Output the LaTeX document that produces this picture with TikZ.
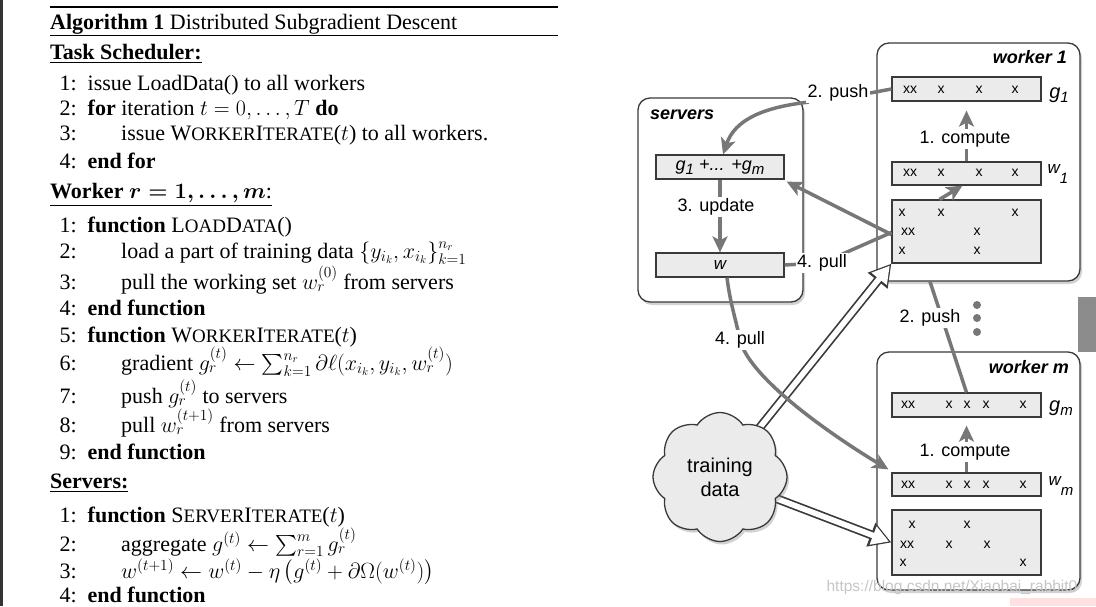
\RequirePackage{fix-cm}
\documentclass[tikz,border=0pt]{standalone}
\usepackage{exscale}
\usepackage[no-math]{fontspec}
\setmainfont{Liberation Serif}
\setsansfont{Liberation Sans}
\usetikzlibrary{shapes.symbols,shadows,arrows.meta,calc}
\definecolor{gcol}{HTML}{777777}
\definecolor{boxfill}{HTML}{EBEBEB}
\definecolor{edgecol}{HTML}{3A3A3A}
\newcommand\scx[1]{{\fontsize{19}{19}\selectfont #1}}
\newcommand\sbx[1]{\raisebox{-0.45ex}{\fontsize{15}{15}\selectfont #1}}
\begin{document}
\begin{tikzpicture}[x=1pt,y=-1pt,
 alg/.style={anchor=base west, inner sep=0pt, font=\fontsize{22}{26}\selectfont},
 lnum/.style={anchor=base east, inner sep=0pt, font=\fontsize{22}{26}\selectfont},
 panel/.style={draw=edgecol, line width=1.3pt, rounded corners=12pt, fill=white, inner sep=0pt,
   drop shadow={opacity=0.35, shadow xshift=2pt, shadow yshift=-3pt}},
 row/.style={draw=edgecol, line width=1.2pt, fill=boxfill, minimum width=149pt, inner sep=0pt},
 xm/.style={font=\sffamily\fontsize{14}{16}\selectfont, inner sep=0pt},
 lbl/.style={font=\sffamily\fontsize{18}{20}\selectfont, fill=white, inner sep=1.5pt},
 ttl/.style={font=\sffamily\bfseries\itshape\fontsize{18}{20}\selectfont, inner sep=0pt},
 side/.style={font=\sffamily\itshape\fontsize{20}{22}\selectfont, inner sep=0pt},
 gline/.style={draw=gcol, line width=3.5pt},
 garrow/.style={gline, -{Stealth[length=16pt,width=15pt,inset=4pt]}},
 hollowout/.style={line width=9pt, draw=edgecol, -{Triangle[length=22pt,width=24pt]}},
 hollowin/.style={line width=5.6pt, draw=white, shorten >=2.6pt, -{Triangle[length=17pt,width=18.5pt]}},
]
\useasboundingbox (0,0) rectangle (1096,606);
\fill[white] (0,0) rectangle (1096,606);
\fill[black!80] (0,0) rectangle (2.5,606);

% ---------------- Algorithm ----------------
\draw[line width=1.6pt] (50,7) -- (558,7);
\node[alg] (a0) at (50,29) {\textbf{Algorithm 1} Distributed Subgradient Descent};
\draw[line width=0.9pt] (50,35) -- (558,35);
\node[alg] (h1) at (50,59) {\underline{\textbf{Task Scheduler:}}};
\node[lnum] (n11) at (77,90) {1:};
\node[alg] (l11) at (87.5,90) {issue LoadData() to all workers};
\node[lnum] (n12) at (77,115) {2:};
\node[alg] (l12) at (87.5,115) {\textbf{for} iteration $t=0,\ldots,T$ \textbf{do}};
\node[lnum] (n13) at (77,140) {3:};
\node[alg] (l13) at (121,140) {issue W\scx{ORKER}I\scx{TERATE}($t$) to all workers.};
\node[lnum] (n14) at (77,168) {4:};
\node[alg] (l14) at (87.5,168) {\textbf{end for}};
\node[alg] (h2) at (50,198) {{\boldmath\underline{\textbf{Worker} $r=1,\ldots,m$:}}};
\node[lnum] (n21) at (77,232) {1:};
\node[alg] (l21) at (87.5,232) {\textbf{function} L\scx{OAD}D\scx{ATA}()};
\node[lnum] (n22) at (77,258) {2:};
\node[alg] (l22) at (121,258) {load a part of training data $\{y_{i_k},x_{i_k}\}_{k=1}^{n_r}$};
\node[lnum] (n23) at (77,289) {3:};
\node[alg] (l23) at (121,289) {pull the working set $w_r^{(0)}$ from servers};
\node[lnum] (n24) at (77,315) {4:};
\node[alg] (l24) at (87.5,315) {\textbf{end function}};
\node[lnum] (n25) at (77,342) {5:};
\node[alg] (l25) at (87.5,342) {\textbf{function} W\scx{ORKER}I\scx{TERATE}($t$)};
\node[lnum] (n26) at (77,370) {6:};
\node[alg] (l26) at (121,370) {gradient $g_r^{(t)}\leftarrow\sum_{k=1}^{n_r}\partial\ell(x_{i_k},y_{i_k},w_r^{(t)})$};
\node[lnum] (n27) at (77,403) {7:};
\node[alg] (l27) at (121,403) {push $g_r^{(t)}$ to servers};
\node[lnum] (n28) at (77,432) {8:};
\node[alg] (l28) at (121,432) {pull $w_r^{(t+1)}$ from servers};
\node[lnum] (n29) at (77,459) {9:};
\node[alg] (l29) at (87.5,459) {\textbf{end function}};
\node[alg] (h3) at (50,488) {\underline{\textbf{Servers:}}};
\node[lnum] (n31) at (77,522) {1:};
\node[alg] (l31) at (87.5,522) {\textbf{function} S\scx{ERVER}I\scx{TERATE}($t$)};
\node[lnum] (n32) at (77,551) {2:};
\node[alg] (l32) at (121,551) {aggregate $g^{(t)}\leftarrow\sum_{r=1}^{m}g_r^{(t)}$};
\node[lnum] (n33) at (77,578) {3:};
\node[alg] (l33) at (121,578) {$w^{(t+1)}\leftarrow w^{(t)}-\eta\,\bigl(g^{(t)}+\partial\Omega(w^{(t)})\bigr)$};
\node[lnum] (n34) at (77,602.5) {4:};
\node[alg] (l34) at (87.5,602.5) {\textbf{end function}};

% ---------------- Diagram panels ----------------
\node[panel, minimum width=165pt, minimum height=204pt] (servers) at (720.5,200) {};
\node[panel, minimum width=203pt, minimum height=238pt] (worker1) at (978.5,162) {};
\node[panel, minimum width=203pt, minimum height=238pt] (workerm) at (978.5,471) {};

\node[ttl, anchor=west] (tsv) at (650,115) {servers};
\node[ttl, anchor=east] (tw1) at (1067,57) {worker 1};
\node[ttl, anchor=east] (twm) at (1069,367) {worker m};

% server rows
\node[row, minimum width=128pt, minimum height=24pt, font=\sffamily\itshape\fontsize{18}{20}\selectfont] (gsum) at (720,167) {g\sbx{1} +... +g\sbx{m}};
\node[row, minimum width=128pt, minimum height=24pt, font=\sffamily\itshape\fontsize{17}{20}\selectfont] (wsv) at (720,265) {w};

% worker 1 rows
\node[row, minimum height=24pt] (g1) at (966.5,89) {};
\node[row, minimum height=23pt] (w1) at (966.5,173.5) {};
\node[row, minimum height=63pt] (data1) at (966.5,231.5) {};
% worker m rows
\node[row, minimum height=24pt] (gm) at (966.5,405) {};
\node[row, minimum height=23pt] (wm) at (966.5,484.5) {};
\node[row, minimum height=65pt] (datam) at (966.5,542.5) {};

\foreach \px/\py/\t [count=\i] in {
  910/90/xx, 941/90/x, 979/90/x, 1015/90/x,
  910/173/xx, 941/173/x, 979/173/x, 1015/173/x,
  902/213/x, 941/213/x, 1015/213/x, 908/232/xx, 977/232/x, 902/251/x, 977/251/x,
  908/405/xx, 949/405/x, 967/405/x, 986/405/x, 1023/405/x,
  908/485/xx, 949/485/x, 967/485/x, 986/485/x, 1023/485/x,
  912/525/x, 967/525/x, 907/545/xx, 949/545/x, 987/545/x, 903/563/x, 1023/563/x}
  \node[xm] (xk\i) at (\px,\py) {\t};

\node[side] (lg1) at (1059,95) {g\sbx{1}};
\node[side] (lw1) at (1058,174) {\raisebox{0.45ex}{\fontsize{17}{17}\selectfont w}\sbx{1}};
\node[side] (lgm) at (1061,408) {g\sbx{m}};
\node[side] (lwm) at (1061,486) {\raisebox{0.45ex}{\fontsize{17}{17}\selectfont w}\sbx{m}};

% ---------------- hollow white arrows ----------------
\coordinate (cc) at (720,477);
\draw[hollowout] (cc) -- (data1.south west);
\draw[hollowin] (cc) -- (data1.south west);
\draw[hollowout] (cc) -- (datam.west);
\draw[hollowin] (cc) -- (datam.west);

\node[cloud, cloud puffs=8, cloud puff arc=115, aspect=1.05, draw=edgecol, line width=1.3pt, fill=boxfill,
  minimum width=134pt, minimum height=129pt, inner sep=0pt,
  drop shadow={opacity=0.35, shadow xshift=2pt, shadow yshift=-3pt},
  font=\sffamily\fontsize{20}{24}\selectfont, align=center] (cloud) at (cc) {training\\data};

% ---------------- gray connectors ----------------
\node[lbl] (push1) at (838,93) {2. push};
\node[lbl] (pull1) at (822,263) {4. pull};
\node[lbl] (upd) at (716,207) {3. update};
\node[lbl] (cmp1) at (965,139) {1. compute};
\node[lbl] (cmpm) at (965,452) {1. compute};
\node[lbl] (pull2) at (740,340) {4. pull};
\node[lbl] (push2) at (930,318) {2. push};

\draw[gline] (g1.west) -- (push1.east);
\draw[garrow] ($(push1.south west)+(3,-1)$) .. controls +(-45,5) and +(12,-35) .. ($(gsum.north)+(3,0)$);
\draw[garrow] ($(data1.west)+(0,3)$) -- ($(gsum.south east)+(2,2)$);
\draw[gline] (wsv.east) -- (pull1.center) -- ($(data1.west)+(0,1)$);
\draw[garrow] (gsum.south) -- (wsv.north);
\draw[garrow, shorten >=9pt] (w1.north) -- (g1.south);
\draw[garrow, shorten >=8pt] (wm.north) -- (gm.south);
\draw[garrow] ($(data1.north)+(-27,0)$) -- ($(w1.south)+(-4,0)$);
\draw[gline] ($(wsv.south)+(7,0)$) .. controls +(3,25) and +(-4,-20) .. (pull2.center);
\draw[garrow] (pull2.center) .. controls +(10,40) and +(-50,-30) .. ($(wm.north west)+(-3,-3)$);
\draw[gline] (gm.north) -- ($(worker1.south)+(-48.5,0)$);

% labels on top
\node[lbl] at (push1) {2. push};
\node[lbl] at (pull1) {4. pull};
\node[lbl] at (upd) {3. update};
\node[lbl] at (cmp1) {1. compute};
\node[lbl] at (cmpm) {1. compute};
\node[lbl] at (pull2) {4. pull};
\node[lbl] at (push2) {2. push};

% dots
\fill[gcol] (977,305) circle (4pt);
\fill[gcol] (977,318) circle (4pt);
\fill[gcol] (977,332) circle (4pt);

% screen artefacts
\fill[black!45] (1078,297) rectangle (1096,352);
\fill[red!12] (1010,598) rectangle (1096,606);
\node[font=\sffamily\fontsize{15.5}{17}\selectfont, text=gray!45, inner sep=0pt] (wmk) at (952,587) {https://blog.csdn.net/Xiaobai\_rabbit0};
\end{tikzpicture}
\end{document}
